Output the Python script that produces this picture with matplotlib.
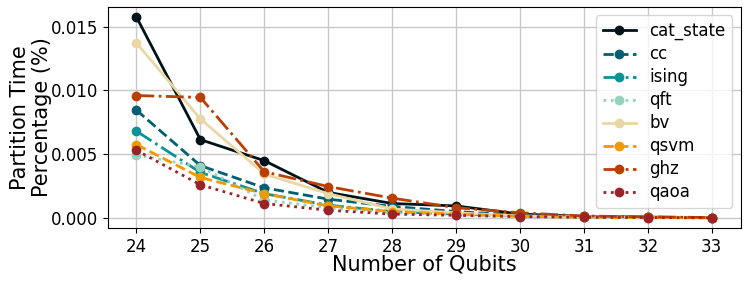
import matplotlib.pyplot as plt

qubits = [24, 25, 26, 27, 28, 29, 30, 31, 32, 33]

cat_state = [0.01575, 0.00614, 0.00449, 0.0020, 0.00113, 0.00094, 0.0003, 0.00012, 0.00006, 0.00002]
cc = [0.00845, 0.0041, 0.00236, 0.00147, 0.0009, 0.0005, 0.0002, 0.0001, 0.00005, 0.00002]
ising = [0.0068, 0.00357, 0.0019, 0.0010, 0.0005, 0.0003, 0.00015, 0.00008, 0.00004, 0.00002]
qft = [0.00494, 0.0040, 0.0014, 0.0008, 0.0004, 0.00025, 0.0001, 0.00006, 0.00003, 0.00001]
bv = [0.01372, 0.00777, 0.00344, 0.0019, 0.0007, 0.0004, 0.00015, 0.00008, 0.00004, 0.00002]
qsvm = [0.00575, 0.00317, 0.0019, 0.00094, 0.0005, 0.0003, 0.00012, 0.00006, 0.00003, 0.00001]
ghz = [0.0096, 0.00945, 0.00362, 0.00246, 0.00155, 0.0008, 0.0004, 0.00015, 0.00008, 0.00003]
qaoa = [0.0053, 0.0026, 0.00113, 0.0006, 0.0003, 0.0002, 0.0001, 0.00005, 0.00003, 0.00001]

series = [
    ('cat_state', cat_state, '#001219', '-'),
    ('cc', cc, '#005f73', '--'),
    ('ising', ising, '#0a9396', '-.'),
    ('qft', qft, '#94d2bd', ':'),
    ('bv', bv, '#e9d8a6', '-'),
    ('qsvm', qsvm, '#ee9b00', '--'),
    ('ghz', ghz, '#bb3e03', '-.'),
    ('qaoa', qaoa, '#9b2226', ':'),
]

fig, ax = plt.subplots(figsize=(7.48, 2.83), dpi=100)
for name, vals, color, ls in series:
    ax.plot(qubits, vals, marker='o', linestyle=ls, color=color, label=name,
            linewidth=2, markersize=6)

ax.set_xlabel('Number of Qubits', fontsize=15, labelpad=-1)
ax.set_ylabel('Partition Time\nPercentage (%)', fontsize=15, labelpad=-1,
              linespacing=1.1)
ax.set_xticks(qubits)
ax.set_yticks([0.0, 0.005, 0.010, 0.015])
ax.set_yticklabels(['0.000', '0.005', '0.010', '0.015'])
ax.tick_params(labelsize=12)
ax.grid(True, color='#c8c8c8', linewidth=1)
ax.set_axisbelow(True)
ax.legend(fontsize=12, loc='upper right', handlelength=2, labelspacing=0.3)

fig.subplots_adjust(left=0.144, right=0.99, top=0.975, bottom=0.195)
fig.savefig('out.png')
